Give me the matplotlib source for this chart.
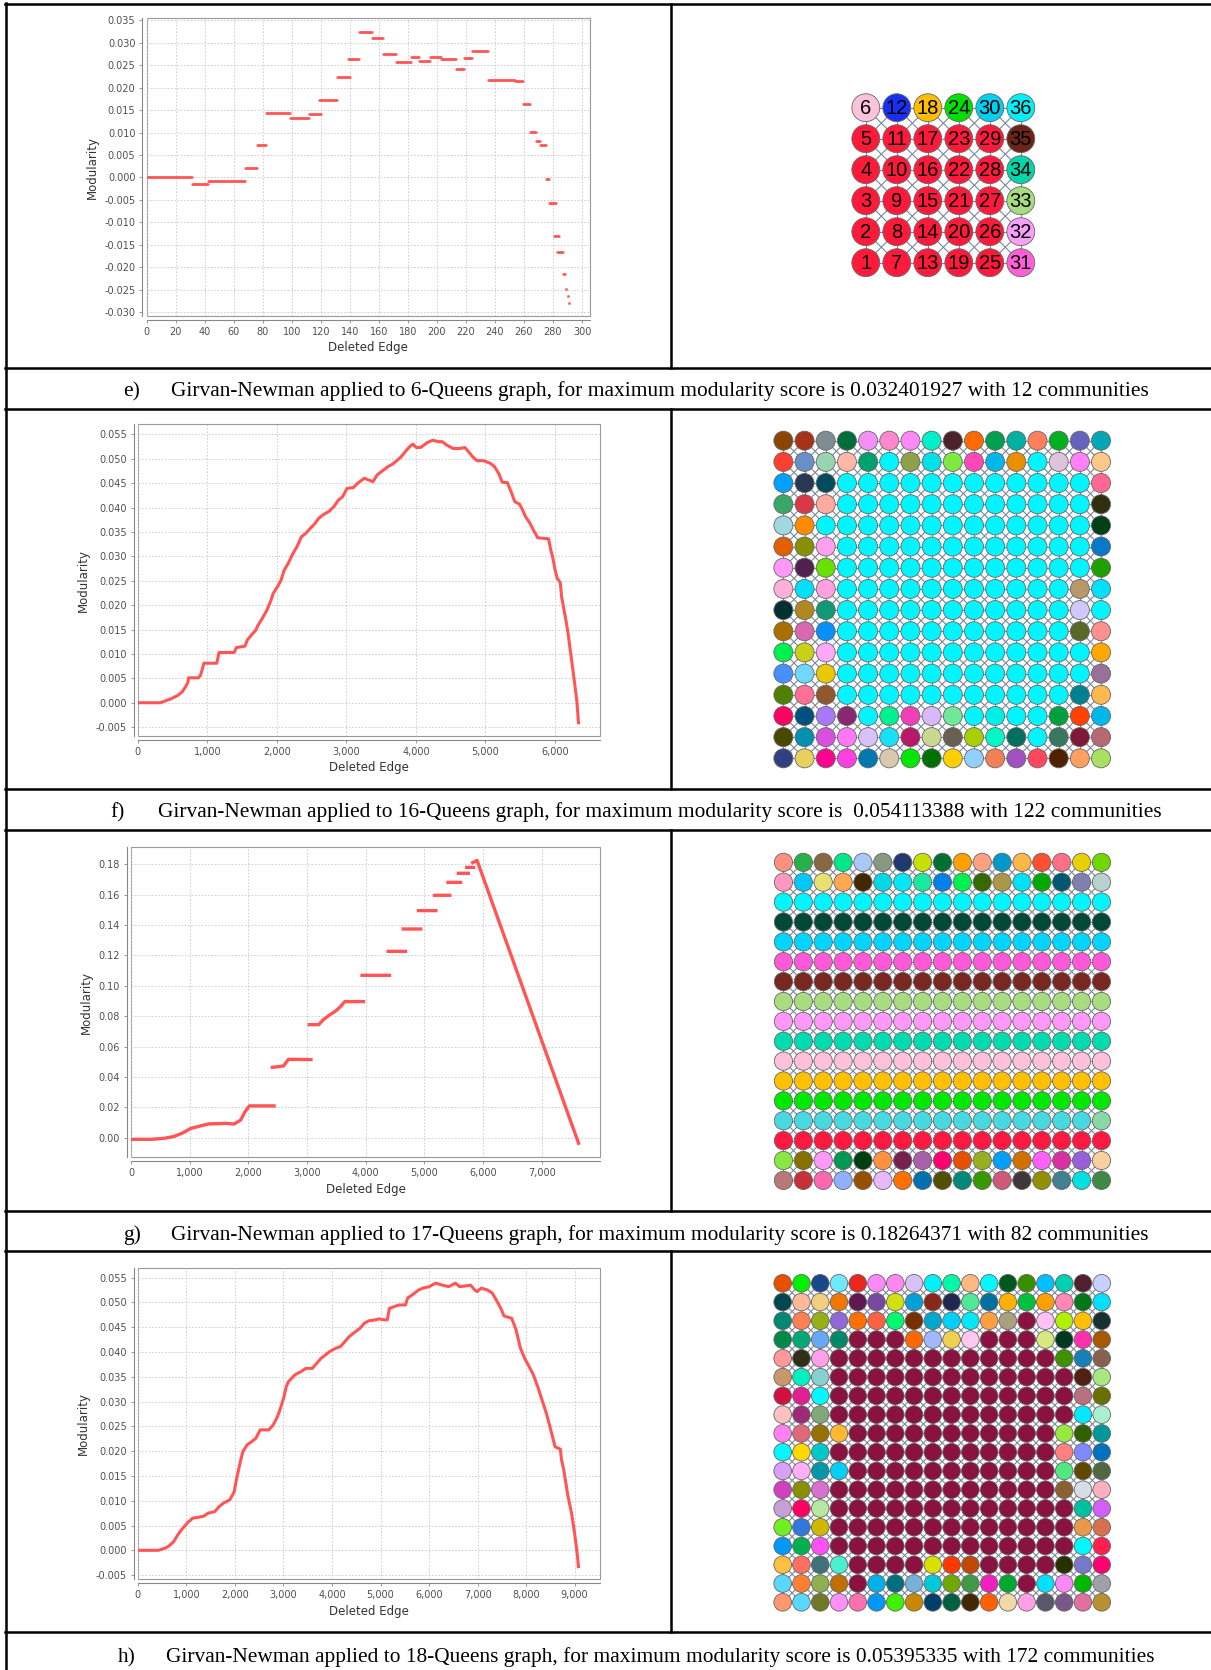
import numpy as np
import matplotlib
matplotlib.use('Agg')
import matplotlib.pyplot as plt
from matplotlib.patches import Circle, Rectangle
from matplotlib.ticker import FuncFormatter
from matplotlib.collections import LineCollection
from matplotlib.lines import Line2D

plt.rcParams['axes.unicode_minus'] = False

# ---------------- data ----------------
# e) 6-Queens: modularity is constant over runs of deleted edges
e_start = [0, 31, 42, 68, 76, 82, 99, 112, 119, 131, 139, 146, 155, 163, 172, 182, 188, 195,
           203, 213, 219, 224, 235, 254, 259, 264, 268, 271, 275, 277, 281, 283, 287, 289, 290, 291]
e_end = [31, 42, 68, 76, 82, 99, 112, 120, 131, 140, 146, 155, 163, 172, 182, 188, 195, 203,
         213, 219, 224, 235, 254, 259, 264, 268, 271, 275, 277, 282, 284, 287, 288, 289, 290, 291]
e_mod = [0.0000, -0.0014, -0.0007, 0.0022, 0.0072, 0.0143, 0.0132, 0.0141, 0.0173, 0.0224,
         0.0263, 0.0323, 0.0311, 0.0274, 0.0257, 0.0267, 0.0259, 0.0269, 0.0263, 0.0241,
         0.0265, 0.0282, 0.0217, 0.0214, 0.0164, 0.0101, 0.0081, 0.0073, -0.0004, -0.0056,
         -0.0131, -0.0166, -0.0215, -0.0247, -0.0263, -0.0280]

# f) 16-Queens
f_edge = [0, 324, 387, 480, 574, 636, 686, 717, 730, 870, 900, 929, 948, 1135, 1167, 1385, 1416,
          1541, 1572, 1634, 1697, 1728, 1790, 1853, 1915, 1946, 2009, 2059, 2102, 2164, 2227,
          2289, 2352, 2414, 2477, 2539, 2601, 2664, 2757, 2820, 2882, 2944, 3007, 3100, 3163,
          3256, 3381, 3443, 3506, 3599, 3662, 3724, 3786, 3849, 3911, 3955, 4005, 4067, 4161,
          4242, 4317, 4379, 4442, 4535, 4629, 4703, 4753, 4816, 4878, 4972, 5065, 5128, 5190,
          5240, 5315, 5377, 5421, 5490, 5533, 5577, 5639, 5689, 5751, 5907, 5939, 5970, 6001,
          6032, 6076, 6095, 6126, 6157, 6188, 6219, 6251, 6282, 6313, 6338]
f_mod = [0.0, 0.0, 0.00034, 0.00082, 0.0015, 0.0022, 0.0033, 0.0041, 0.0051, 0.0051, 0.0056,
         0.0070, 0.0081, 0.0081, 0.0103, 0.0103, 0.0113, 0.0116, 0.0128, 0.0139, 0.0149, 0.0159,
         0.0173, 0.0189, 0.0210, 0.0224, 0.0238, 0.0251, 0.0271, 0.0286, 0.0305, 0.0320, 0.0340,
         0.0347, 0.0357, 0.0366, 0.0378, 0.0385, 0.0393, 0.0402, 0.0415, 0.0422, 0.0439, 0.0441,
         0.0450, 0.0460, 0.0453, 0.0467, 0.0474, 0.0484, 0.0489, 0.0496, 0.0504, 0.0515, 0.0525,
         0.0530, 0.0523, 0.0523, 0.0533, 0.0538, 0.0535, 0.0535, 0.0528, 0.0521, 0.0521, 0.0523,
         0.0515, 0.0504, 0.0496, 0.0496, 0.0491, 0.0484, 0.0470, 0.0452, 0.0451, 0.0429, 0.0412,
         0.0407, 0.0395, 0.0381, 0.0368, 0.0354, 0.0338, 0.0336, 0.0313, 0.0296, 0.0272, 0.0255,
         0.0246, 0.0217, 0.0193, 0.0169, 0.0142, 0.0108, 0.0074, 0.0040, 0.0005, -0.0041]

# g) 17-Queens (nan = gap between plateaus)
nan = float('nan')
g_edge = [0, 355, 577, 724, 872, 1020, 1131, 1316, 1611, 1759, 1870, 1944, 2018, 2439, nan,
          2409, 2600, 2683, 3067, nan,
          3038, 3200, 3274, 3385, 3496, 3570, 3644, 3962, nan,
          3939, 4405, nan, 4383, 4679, nan, 4642, 4937, nan, 4900, 5196, nan,
          5174, 5432, nan, 5403, 5617, nan, 5580, 5750, nan, 5721, 5839, nan,
          5824, 5898, 7628]
g_mod = [-0.0011, -0.0011, -0.0004, 0.0007, 0.0029, 0.0061, 0.0072, 0.0090, 0.0094, 0.0090,
         0.0116, 0.0171, 0.0209, 0.0209, nan,
         0.0463, 0.0472, 0.0516, 0.0514, nan,
         0.0744, 0.0744, 0.0775, 0.0808, 0.0836, 0.0863, 0.0896, 0.0896, nan,
         0.1069, 0.1069, nan, 0.1227, 0.1227, nan, 0.1374, 0.1374, nan, 0.1495, 0.1495, nan,
         0.1596, 0.1596, nan, 0.1681, 0.1681, nan, 0.1741, 0.1741, nan, 0.1780, 0.1780, nan,
         0.1811, 0.1826, -0.0037]

# h) 18-Queens
h_edge = [0, 420, 554, 643, 733, 822, 894, 956, 1046, 1135, 1269, 1358, 1448, 1582, 1671, 1761,
          1895, 1984, 2029, 2073, 2118, 2163, 2252, 2341, 2431, 2520, 2610, 2699, 2788, 2878,
          2949, 3012, 3056, 3101, 3235, 3369, 3459, 3593, 3682, 3771, 3861, 3950, 4084, 4174,
          4263, 4352, 4442, 4576, 4665, 4754, 4889, 4978, 5067, 5139, 5183, 5291, 5380, 5514,
          5559, 5648, 5782, 5872, 6006, 6095, 6140, 6274, 6408, 6542, 6631, 6721, 6855, 6944,
          6989, 7078, 7212, 7302, 7391, 7480, 7543, 7704, 7793, 7882, 7972, 8061, 8150, 8240,
          8329, 8419, 8508, 8597, 8705, 8731, 8776, 8865, 8937, 9000, 9044, 9080]
h_mod = [0.0, 0.0, 0.0004, 0.0009, 0.0017, 0.0031, 0.0041, 0.0048, 0.0058, 0.0065, 0.0067,
         0.0069, 0.0075, 0.0078, 0.0088, 0.0095, 0.0102, 0.0118, 0.0142, 0.0162, 0.0182, 0.0199,
         0.0213, 0.0219, 0.0226, 0.0243, 0.0243, 0.0243, 0.0253, 0.0270, 0.0290, 0.0310, 0.0330,
         0.0340, 0.0354, 0.0361, 0.0367, 0.0367, 0.0377, 0.0387, 0.0394, 0.0401, 0.0408, 0.0411,
         0.0421, 0.0431, 0.0438, 0.0448, 0.0458, 0.0463, 0.0465, 0.0467, 0.0465, 0.0465, 0.0488,
         0.0492, 0.0495, 0.0495, 0.0509, 0.0515, 0.0525, 0.0529, 0.0532, 0.0537, 0.0539, 0.0535,
         0.0532, 0.0539, 0.0532, 0.0533, 0.0535, 0.0525, 0.0522, 0.0529, 0.0525, 0.0519, 0.0504,
         0.0488, 0.0473, 0.0468, 0.0445, 0.0408, 0.0387, 0.0371, 0.0354, 0.0330, 0.0303, 0.0276,
         0.0243, 0.0209, 0.0204, 0.0182, 0.0162, 0.0108, 0.0075, 0.0034, 0.0001, -0.0033]

# community colours, listed top row first
e_colors = [
    ['#fbc2dc', '#1a30f0', '#ffbf00', '#00e000', '#00d0f0', '#00f0f8'],
    ['#ff1a3c'] * 5 + ['#6a2418'],
    ['#ff1a3c'] * 5 + ['#00d4a8'],
    ['#ff1a3c'] * 5 + ['#a8dc80'],
    ['#ff1a3c'] * 5 + ['#f8a0f8'],
    ['#ff1a3c'] * 5 + ['#ff60d8'],
]

CY = '#00f5ff'
f_colors = [
    ['#8b4500', '#a83218', '#7f8c94', '#006e3a', '#f58ef5', '#ff88cc', '#ff88f8', '#00f0c8',
     '#4a2228', '#ff6a00', '#00a050', '#00b0a0', '#ff8060', '#00b020', '#6464c0', '#00a8b4'],
    ['#ff4030', '#6890c8', '#98d4b0', '#ffb8a8', '#00a070', CY, '#90a048', '#00e0e8',
     '#80e840', '#ff48b8', '#00b8e8', '#e89000', CY, '#dcc4dc', '#ff80f8', '#ffc888'],
    ['#00a0ff', '#283850', '#004c5c'] + [CY] * 12 + ['#ff6890'],
    ['#38a868', '#d83848', '#ffaaa0'] + [CY] * 12 + ['#303010'],
    ['#a0d8e0', '#ff8c00'] + [CY] * 13 + ['#004018'],
    ['#e06000', '#889000', '#ffa0f0'] + [CY] * 12 + ['#0878c8'],
    ['#ff98f8', '#502050', '#68e000'] + [CY] * 12 + ['#20a000'],
    ['#ffb0d8', '#00e0f8', '#ffa0e0'] + [CY] * 11 + ['#b89868', '#00e0f8'],
    ['#003030', '#b08820', '#109878'] + [CY] * 11 + ['#d0c8f8', CY],
    ['#a87000', '#d868b0', '#0890f8'] + [CY] * 11 + ['#586828', '#ff9090'],
    ['#00f050', '#c8d018', '#ffa8f8'] + [CY] * 12 + ['#ffa800'],
    ['#4890ff', '#70d8ff', '#e8c800'] + [CY] * 12 + ['#987098'],
    ['#508000', '#ff7098', '#905830'] + [CY] * 11 + ['#008090', '#ffb850'],
    ['#ff0060', '#005080', '#a878f8', '#882870', CY, '#00f090', '#f040b8', '#d8b8f8',
     '#70e898', CY, '#00f0e8', CY, CY, '#00a040', '#ff4000', '#00b8e8'],
    ['#484800', '#0090b0', '#d850e0', '#ff78f8', '#d8c0f8', '#18e0f8', '#b81868', '#c8d890',
     '#686050', '#a8d000', '#00f8c8', '#007060', CY, '#387860', '#801838', '#b86870'],
    ['#304080', '#e8d060', '#ff0090', '#ff40e0', '#0078b0', '#d8c8b0', '#00e800', '#007000',
     '#ffd000', '#90d0ff', '#f08058', '#a050c0', '#ff4860', '#502000', '#ffa060', '#a8e060'],
]

g_colors = [
    ['#ff9080', '#28b048', '#886840', '#00e888', '#a8c8f8', '#889880', '#203870', '#c8e000',
     '#007030', '#ffa000', '#ffa080', '#0098c8', '#ffb848', '#ff5030', '#ff7088', '#e8d000', '#70d800'],
    ['#ff98c0', '#00c8f8', '#e8e070', '#ffa850', '#402800', '#00d8e8', '#00e8f8', '#18e8a0',
     '#0080e8', '#00f050', '#386800', '#a89848', '#00e0f8', '#00a800', '#005870', '#8080b0', '#b8d0d0'],
    ['#00f5ff'] * 17,
    ['#004838'] * 17,
    ['#00d4ff'] * 17,
    ['#ff58d8'] * 17,
    ['#782820'] * 17,
    ['#a8dc80'] * 17,
    ['#ff98f8'] * 17,
    ['#00dcb0'] * 17,
    ['#ffc0dc'] * 17,
    ['#ffc000'] * 17,
    ['#00e800'] * 17,
    ['#48d8e0'] * 16 + ['#88d8a8'],
    ['#ff1840'] * 17,
    ['#88e840', '#887000', '#ff98f8', '#009850', '#004010', '#ff9040', '#782050', '#a860a8',
     '#ff0070', '#e85000', '#98b020', '#00a0f8', '#d07000', '#ff60f8', '#d830a0', '#9860d8', '#f8d0a0'],
    ['#b87878', '#c83038', '#ff68b0', '#90b0ff', '#985000', '#e8b8f8', '#ff7000', '#0070b0',
     '#505000', '#008878', '#389800', '#d05878', '#403838', '#909000', '#408090', '#00e0e0', '#408848'],
]

M = '#8a1240'
h_colors = [
    ['#e85000', '#00f000', '#184888', '#70e8ff', '#e82820', '#ff88f8', '#ff88f0', '#d8c0f8', '#00f0f8',
     '#00f8a8', '#ffb880', '#00f8ff', '#005820', '#389000', '#00c0ff', '#00d0b0', '#502030', '#c8d0ff'],
    ['#004850', '#ffb898', '#f0d080', '#f07800', '#601850', '#7848a0', '#d0e010', '#00a0d8', '#882818',
     '#202850', '#50e898', '#0070a0', '#ffb000', '#00c040', '#ffa000', '#ff88b8', '#007818', '#00e0ff'],
    ['#008870', '#ff8050', '#98b018', '#9068d8', '#ff7000', '#ff6040', '#00f870', '#783000', '#00a8d0',
     '#00d0f8', '#00e8f8', '#ffa040', '#a8a080', M, '#ffc0f8', '#b0f000', '#ffc000', '#183030'],
    ['#008848', '#00a878', '#68a8f0', '#008868', M, M, M, '#ff6800', '#a0b8ff', '#f0d050', '#ffc8f0',
     M, M, M, '#d8e880', '#003820', '#ff30b0', '#a85800'],
    ['#ff9898', '#303018', '#ffa0e8'] + [M] * 12 + ['#409000', '#1880b8', '#886050'],
    ['#c89868', '#00f0c0', '#88d0d0'] + [M] * 13 + ['#502010', '#a8e880'],
    ['#d01040', '#e02090', '#00f8ff'] + [M] * 13 + ['#b87080', '#687000'],
    ['#ffc0c0', '#a02878', '#80a878'] + [M] * 13 + ['#00e8ff', '#a8f0d0'],
    ['#ff80f0', '#e06878', '#987000', '#ffb830'] + [M] * 11 + ['#98e840', '#306000', '#009898'],
    ['#00f8ff', '#ffd800', '#00c8c8'] + [M] * 12 + ['#ff8080', '#8088ff', '#0070c0'],
    ['#d8a0f8', '#ffb0f8', '#0098a8', '#00d0f8'] + [M] * 11 + ['#50e880', '#604800', '#506840'],
    ['#d040c0', '#889000', '#d870d0'] + [M] * 12 + ['#8a6030', '#d8dce8', '#ffb0c0'],
    ['#c8a0d8', '#ff0060', '#b8e8a0'] + [M] * 13 + ['#00c0a0', '#d060f8'],
    ['#70f020', '#3078e0', '#d0b800'] + [M] * 13 + ['#e89848', '#d87050'],
    ['#0098f8', '#00b050', '#ff50f8'] + [M] * 13 + ['#00f8ff', '#ff2050'],
    ['#ffc040', '#ff7060', '#407078', '#48f0d0'] + [M] * 4 + ['#d8e000', '#ff3800', '#c04808']
    + [M] * 4 + ['#283000', '#7878c8', '#ff0070'],
    ['#58d8ff', '#ff8030', '#90b050', '#c07000', M, '#00b0e8', '#007080', '#78b0d8', '#00c8d8',
     '#70a800', '#409848', '#f020c0', '#00a830', M, '#00e0ff', '#ff88f8', '#00b800', '#a0a0a8'],
    ['#ff9870', '#58d8ff', '#707828', '#ff90f8', '#ff70b0', '#0098f8', '#40f000', '#c88800', '#004068',
     '#006040', '#402800', '#ff6000', '#f0d8a8', '#ffa0e8', '#585868', '#785888', '#e070a0', '#b89030'],
]

captions = [
    ('e)', 'Girvan-Newman applied to 6-Queens graph, for maximum modularity score is 0.032401927 with 12 communities'),
    ('f)', 'Girvan-Newman applied to 16-Queens graph, for maximum modularity score is  0.054113388 with 122 communities'),
    ('g)', 'Girvan-Newman applied to 17-Queens graph, for maximum modularity score is 0.18264371 with 82 communities'),
    ('h)', 'Girvan-Newman applied to 18-Queens graph, for maximum modularity score is 0.05395335 with 172 communities'),
]

# ---------------- figure ----------------
W, H = 1211, 1670
fig = plt.figure(figsize=(W / 100, H / 100), dpi=100)
RED = '#ff5555'


def ax_px(l, t, r, b):
    return fig.add_axes([l / W, 1 - b / H, (r - l) / W, (b - t) / H])


def comma(v, pos):
    return '{:,.0f}'.format(v)


def style_chart(ax, xlim, ylim, xticks, yticks, yfmt, xfmt):
    ax.set_xlim(*xlim)
    ax.set_ylim(*ylim)
    ax.set_xticks(xticks)
    ax.set_yticks(yticks)
    ax.xaxis.set_major_formatter(FuncFormatter(xfmt))
    ax.yaxis.set_major_formatter(FuncFormatter(yfmt))
    ax.grid(True, color='#c8c8c8', lw=0.6, ls=(0, (2, 2)))
    ax.set_axisbelow(True)
    for s in ['top', 'right']:
        ax.spines[s].set_visible(False)
    for s in ['left', 'bottom']:
        ax.spines[s].set_position(('outward', 3))
        ax.spines[s].set_color('#888888')
        ax.spines[s].set_linewidth(0.8)
    ax.add_patch(Rectangle((0, 0), 1, 1, transform=ax.transAxes, fill=False,
                           ec='#999999', lw=0.8, clip_on=False, zorder=0.5))
    ax.tick_params(length=2, width=0.6, color='#888888', labelsize=7,
                   labelcolor='#505050', pad=3)
    ax.set_xlabel('Deleted Edge', fontsize=8.5, color='#333333', labelpad=3)
    ax.set_ylabel('Modularity', fontsize=8.5, color='#333333', labelpad=4)


f3 = lambda v, p: '{:.3f}'.format(v)
f2 = lambda v, p: '{:.2f}'.format(v)

# e chart
ax = ax_px(146.6, 18.3, 590, 316)
style_chart(ax, (0, 305.5), (-0.0308, 0.0354), np.arange(0, 301, 20),
            np.arange(-0.030, 0.0351, 0.005), f3, lambda v, p: '{:.0f}'.format(v))
ax.hlines(e_mod, e_start, e_end, colors=RED, lw=2.0, zorder=3)
ax.plot(e_start, e_mod, ls='none', marker='s', ms=2.0, mec='none', mfc=RED, zorder=3)
ax.plot(e_end, e_mod, ls='none', marker='s', ms=2.0, mec='none', mfc=RED, zorder=3)

# f chart
ax = ax_px(137.9, 424.3, 600.2, 735.7)
style_chart(ax, (0, 6650), (-0.00676, 0.05706), np.arange(0, 6001, 1000),
            np.arange(-0.005, 0.0551, 0.005), f3, comma)
ax.plot(f_edge, f_mod, color=RED, lw=2.2, zorder=3)

# g chart
ax = ax_px(131, 846.7, 600.2, 1157.3)
style_chart(ax, (0, 7997), (-0.01295, 0.1916), np.arange(0, 7001, 1000),
            np.arange(0.0, 0.181, 0.02), f2, comma)
ax.plot(g_edge, g_mod, color=RED, lw=2.4, zorder=3)

# h chart
ax = ax_px(137.9, 1268.3, 600.2, 1579.3)
style_chart(ax, (0, 9527), (-0.00585, 0.0569), np.arange(0, 9001, 1000),
            np.arange(-0.005, 0.0551, 0.005), f3, comma)
ax.plot(h_edge, h_mod, color=RED, lw=2.2, zorder=3)


def draw_grid(ax, colors, r, numbers=False, fs=14):
    n = len(colors)
    ax.set_xlim(-0.5, n - 0.5)
    ax.set_ylim(-0.5, n - 0.5)
    ax.axis('off')
    segs = []
    for i in range(n):
        for j in range(n):
            if j + 1 < n:
                segs.append([(j, i), (j + 1, i)])
            if i + 1 < n:
                segs.append([(j, i), (j, i + 1)])
            if i + 1 < n and j + 1 < n:
                segs.append([(j, i), (j + 1, i + 1)])
            if i + 1 < n and j - 1 >= 0:
                segs.append([(j, i), (j - 1, i + 1)])
    ax.add_collection(LineCollection(segs, colors='#7a8699', linewidths=0.8, zorder=1))
    for rt, row in enumerate(colors):
        i = n - 1 - rt
        for j, c in enumerate(row):
            ax.add_patch(Circle((j, i), r, fc=c, ec='#666666', lw=0.6, zorder=2))
            if numbers:
                ax.text(j, i - 0.02, str(n * j + i + 1), ha='center', va='center',
                        fontsize=fs, family='Liberation Sans', color='black', zorder=3)


ax = ax_px(850.3, 92.2, 1036.3, 278.2)
draw_grid(ax, e_colors, 0.45, numbers=True, fs=14.5)
ax = ax_px(772.8, 430.1, 1111.6, 768.9)
draw_grid(ax, f_colors, 0.45)
ax = ax_px(773.5, 852.4, 1111.4, 1190.3)
draw_grid(ax, g_colors, 0.46)
ax = ax_px(773.3, 1273.9, 1111.1, 1611.7)
draw_grid(ax, h_colors, 0.47)

# table frame + captions
ov = fig.add_axes([0, 0, 1, 1], zorder=10)
ov.set_xlim(0, W)
ov.set_ylim(H, 0)
ov.axis('off')
ov.patch.set_alpha(0)
LW = 1.8
for y in [4, 368, 409, 789, 830, 1211, 1251, 1632]:
    ov.add_line(Line2D([5, W], [y, y], color='black', lw=LW))
ov.add_line(Line2D([6, 6], [3, H], color='black', lw=LW))
for y0, y1 in [(4, 368), (409, 789), (830, 1211), (1251, 1632)]:
    ov.add_line(Line2D([671, 671], [y0, y1], color='black', lw=LW))

cap_pos = [(122.7, 171.3, 396), (110.6, 158.3, 817), (122.7, 171.3, 1240), (118, 165.7, 1662)]
for (lab, txt), (xl, xt, yb) in zip(captions, cap_pos):
    ov.text(xl, yb, lab, ha='left', va='baseline', fontsize=15.4, family='Liberation Serif')
    ov.text(xt, yb, txt, ha='left', va='baseline', fontsize=15.4, family='Liberation Serif')

fig.savefig('out.png', dpi=100)
